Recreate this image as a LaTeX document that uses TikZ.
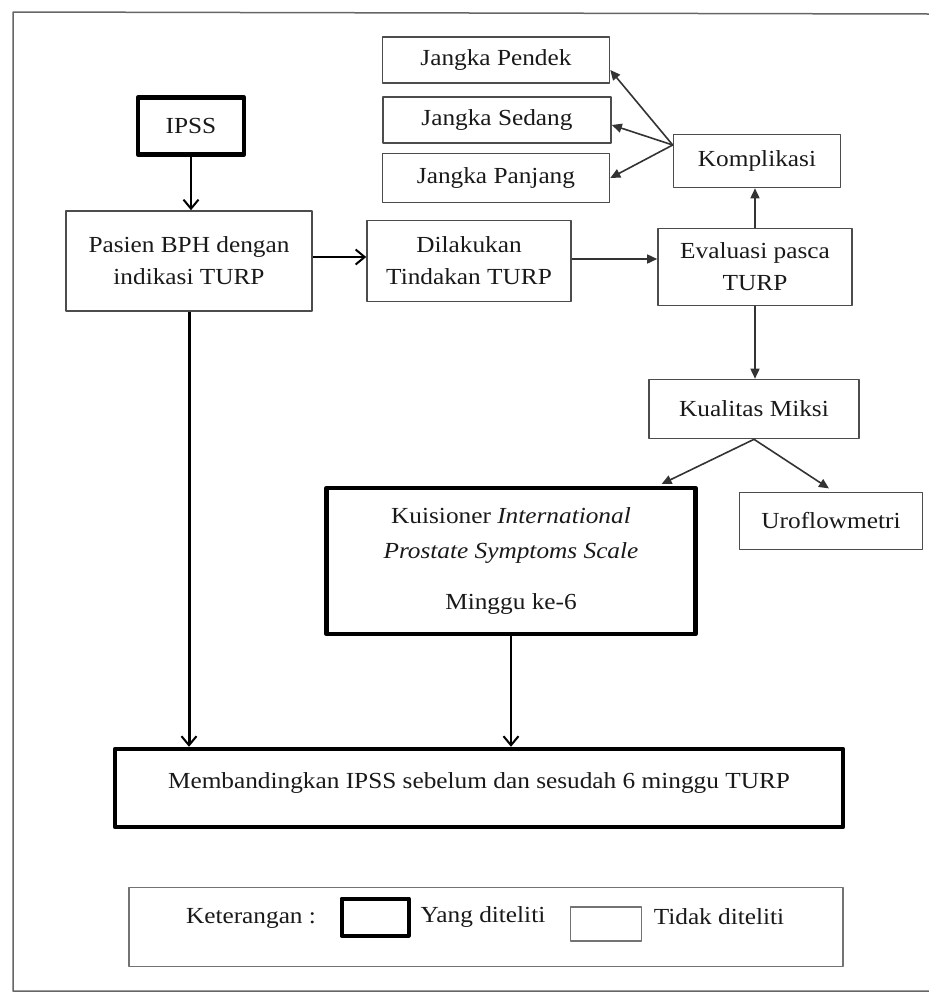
\documentclass[tikz,border=0pt]{standalone}
\usepackage{fontspec}
\setmainfont{Liberation Serif}[FakeStretch=1.1]
\usetikzlibrary{arrows.meta}
\begin{document}
\begin{tikzpicture}[x=1pt,y=-1pt, line join=round,
	font=\fontsize{23}{32}\selectfont, text=black!90,
	kotak/.style={draw=black!70, line width=1.6pt, align=center, inner sep=0pt},
	tebal/.style={draw=black, line width=4.5pt, align=center, inner sep=0pt},
	buka/.style={-{Straight Barb[length=9pt,width=15pt,line width=2pt]}, line width=2pt},
	isi/.style={-{Triangle[length=10pt,width=9pt]}, line width=1.6pt, draw=black!80}]
	\useasboundingbox (0,0) rectangle (929,994);
	% bingkai
	\draw[black!60, line width=1.5pt] (929,14)--(13,12)--(13,991)--(929,991);
	% kotak
	\node[tebal, minimum width=106, minimum height=57] (ipss) at (191,126) {IPSS};
	\node[kotak, minimum width=246, minimum height=100] (pasien) at (189,261) {Pasien BPH dengan\\ indikasi TURP};
	\node[kotak, minimum width=204, minimum height=81] (tindakan) at (469,261) {Dilakukan\\ Tindakan TURP};
	\node[kotak, minimum width=194, minimum height=77] (evaluasi) at (755,267) {Evaluasi pasca\\ TURP};
	\node[kotak, minimum width=167, minimum height=53] (komplikasi) at (757,161) {Komplikasi};
	\node[kotak, minimum width=227, minimum height=46] (pendek) at (496,60) {Jangka Pendek};
	\node[kotak, minimum width=228, minimum height=46] (sedang) at (497,120) {Jangka Sedang};
	\node[kotak, minimum width=227, minimum height=49] (panjang) at (496,178) {Jangka Panjang};
	\node[kotak, minimum width=210, minimum height=59] (miksi) at (754,409) {Kualitas Miksi};
	\node[tebal, minimum width=369, minimum height=146] (kuisioner) at (511,561)
		{Kuisioner \textit{International}\\[3pt] \textit{Prostate Symptoms Scale}\\[19pt] Minggu ke-6};
	\node[kotak, minimum width=183, minimum height=57] (uroflow) at (831,521) {Uroflowmetri};
	\node[tebal, minimum width=728, minimum height=78, text depth=14pt] (banding) at (479,788)
		{Membandingkan IPSS sebelum dan sesudah 6 minggu TURP};
	% keterangan
	\node[kotak, draw=black!55, line width=1.5pt, minimum width=714, minimum height=79] (legenda) at (486,927) {};
	\node (ket) at (251,918) {Keterangan :};
	\node[tebal, line width=4pt, minimum width=67, minimum height=37] (ltebal) at (375,917) {};
	\node (lteliti) at (483,917) {Yang diteliti};
	\node[kotak, draw=black!55, minimum width=71, minimum height=34] (ltipis) at (606,924) {};
	\node (ltidak) at (719,917) {Tidak diteliti};
	% panah
	\draw[buka] (ipss.south) -- (ipss.south |- pasien.north);
	\draw[buka, line width=1.6pt] ([yshift=4pt]pasien.east) -- ([yshift=4pt]tindakan.west);
	\draw[isi] ([yshift=2pt]tindakan.east) -- ([yshift=2pt]tindakan.east -| evaluasi.west);
	\draw[isi] (evaluasi.north) -- (evaluasi.north |- komplikasi.south);
	\coordinate (kiri) at ([yshift=16pt]komplikasi.west);
	\draw[isi] (kiri) -- ([yshift=-10pt]pendek.east);
	\draw[isi] (kiri) -- ([yshift=-5pt]sedang.east);
	\draw[isi] (kiri) -- (panjang.east);
	\draw[isi] (evaluasi.south) -- (evaluasi.south |- miksi.north);
	\draw[isi, shorten >=4pt] (miksi.south) -- ([xshift=147pt]kuisioner.north);
	\draw[isi, shorten >=6pt] (miksi.south) -- ([xshift=3pt]uroflow.north);
	\draw[buka, line width=3pt] (pasien.south) -- (pasien.south |- banding.north);
	\draw[buka, line width=1.6pt] (kuisioner.south) -- (kuisioner.south |- banding.north);
\end{tikzpicture}
\end{document}
